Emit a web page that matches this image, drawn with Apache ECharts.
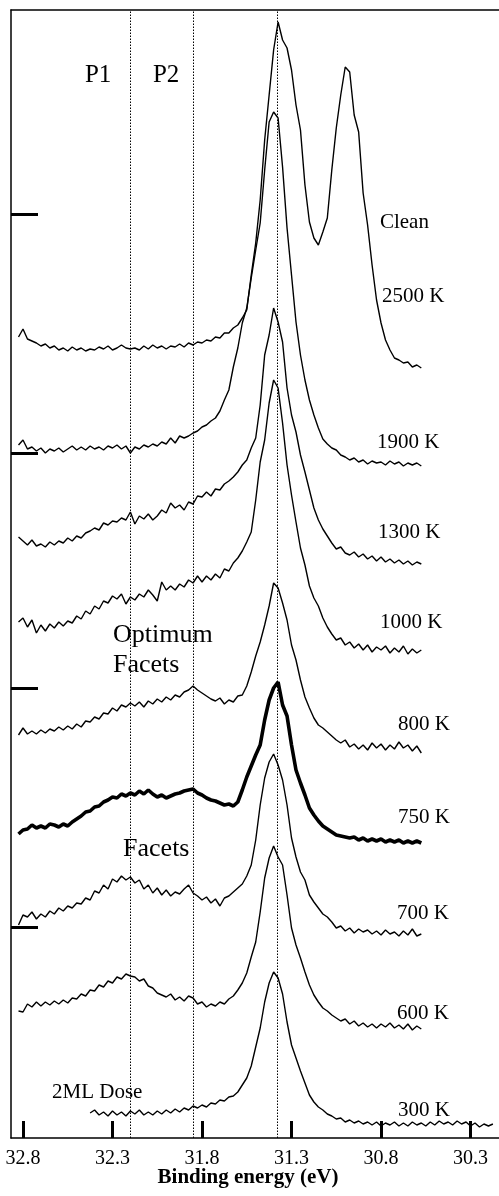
<!DOCTYPE html>
<html>
<head>
<meta charset="utf-8">
<script src="https://cdn.jsdelivr.net/npm/echarts@6/dist/echarts.min.js"></script>
<style>
html,body{margin:0;padding:0;background:#fff;}
#chart{width:499px;height:1196px;}
</style>
</head>
<body>
<div id="chart"></div>
<script>
// Binding energy grid (eV)
const energy = [
32.825,32.8,32.775,32.75,32.725,32.7,32.675,32.65,32.625,32.6,
32.575,32.55,32.525,32.5,32.475,32.45,32.425,32.4,32.375,32.35,
32.325,32.3,32.275,32.25,32.225,32.2,32.175,32.15,32.125,32.1,
32.075,32.05,32.025,32.0,31.975,31.95,31.925,31.9,31.875,31.85,
31.825,31.8,31.775,31.75,31.725,31.7,31.675,31.65,31.625,31.6,
31.575,31.55,31.525,31.5,31.475,31.45,31.425,31.4,31.375,31.35,
31.325,31.3,31.275,31.25,31.225,31.2,31.175,31.15,31.125,31.1,
31.075,31.05,31.025,31.0,30.975,30.95,30.925,30.9,30.875,30.85,
30.825,30.8,30.775,30.75,30.725,30.7,30.675,30.65,30.625,30.6,
30.575,30.55,30.525,30.5,30.475,30.45,30.425,30.4,30.375,30.35,
30.325,30.3,30.275,30.25,30.225,30.2,30.175];

// Intensities (arbitrary units, curves stacked with offsets)
const clean2500K = [
801,809,799,797,795,792,794,790,792,788,
790,787,791,788,790,787,789,788,791,789,
792,788,790,793,790,789,790,788,792,789,
793,790,792,789,792,791,794,791,795,793,
796,795,798,797,801,800,805,805,810,813,
820,828,863,895,938,998,1043,1088,1116,1098,
1090,1068,1033,1008,953,916,900,893,906,920,
968,1010,1043,1071,1066,1023,1006,945,913,873,
838,815,798,788,780,778,775,776,771,773,
770];
const k1900 = [
693,698,689,691,687,690,685,689,687,690,
686,689,692,688,691,688,692,689,691,688,
692,690,693,689,692,685,691,689,693,691,
694,692,696,694,700,695,702,700,702,705,
707,711,713,717,720,727,738,748,771,790,
815,830,860,888,915,968,1016,1026,1020,971,
910,863,816,783,758,738,723,710,699,694,
690,688,683,681,678,680,676,678,674,677,
675,676,673,677,674,676,672,675,673,675,
672];
const k1300 = [
601,597,593,598,592,594,591,596,593,597,
595,600,597,602,600,605,607,610,608,615,
613,617,616,620,618,626,614,622,619,624,
618,622,628,625,635,630,633,628,636,634,
642,641,646,642,649,648,654,657,661,666,
673,678,690,700,733,783,803,830,816,796,
750,723,706,683,666,648,630,618,609,602,
595,589,591,585,583,586,581,584,579,582,
577,581,576,579,575,578,574,577,573,576,
574];
const k1000 = [
516,520,511,518,505,513,507,514,510,516,
512,517,515,522,519,527,524,532,529,537,
535,542,539,544,534,541,538,544,541,548,
543,537,556,548,552,548,554,551,558,555,
562,556,562,558,564,560,569,567,575,580,
587,596,606,638,676,698,735,758,750,715,
673,643,616,590,573,552,540,532,520,511,
504,498,500,493,496,490,494,488,493,486,
491,488,492,485,490,486,492,484,489,485,
488];
const k800 = [
403,410,404,407,404,408,405,409,407,411,
408,412,409,414,411,417,416,421,419,425,
424,430,427,433,431,435,432,436,431,437,
434,439,436,441,438,443,441,446,448,452,
448,445,442,439,437,440,434,438,436,442,
443,452,466,482,496,513,532,555,550,535,
518,493,478,458,441,430,420,413,410,406,
402,398,395,398,391,394,389,393,388,395,
390,394,388,393,389,396,390,393,387,392,
385];
const k750 = [
304,308,309,313,310,312,310,314,313,311,
314,312,316,319,322,326,327,331,332,336,
338,341,340,344,342,345,343,347,344,348,
344,341,343,340,342,344,345,347,348,349,
345,343,340,338,337,335,333,334,332,336,
348,361,372,383,393,418,438,450,456,433,
422,393,368,355,343,330,323,317,312,309,
306,303,302,301,300,301,298,300,297,299,
297,299,296,298,296,298,295,297,295,297,
295];
const k700 = [
213,223,221,226,219,224,221,227,224,230,
227,232,230,235,234,240,238,247,245,253,
249,259,256,262,258,261,255,258,249,253,
245,250,243,248,242,246,244,249,253,245,
242,238,241,235,239,232,240,242,246,250,
254,262,273,298,333,360,376,384,373,358,
333,300,281,266,258,243,236,230,224,221,
216,210,212,207,210,205,209,206,208,204,
207,203,208,204,206,202,207,203,209,202,
204];
const k600 = [
127,126,134,131,136,132,136,133,137,134,
138,135,140,139,144,142,148,147,153,151,
157,155,161,159,164,162,161,157,159,152,
150,145,143,141,144,138,141,137,142,140,
134,136,131,134,132,136,134,139,142,148,
155,165,181,196,226,260,280,292,281,273,
243,210,193,180,166,153,143,136,130,127,
123,120,117,119,114,117,112,115,111,114,
110,114,111,115,110,113,109,114,108,112,
109];
// 2ML dose, 300 K: starts at 32.425 eV
const k300Start = 32.425;
const k300 = [
25,28,23,26,22,27,23,26,22,27,
24,28,23,26,23,27,24,28,25,29,
26,30,28,32,30,33,31,35,34,38,
37,41,42,46,53,60,72,91,110,136,
155,166,160,144,116,93,80,67,55,43,
36,31,28,24,22,19,20,16,18,15,
17,14,16,13,16,12,15,13,16,12,
15,12,16,13,15,12,16,13,17,14,
16,13,17,14,16,12,15,11,14,12,
14];

const energyTicks = [32.8, 32.3, 31.8, 31.3, 30.8, 30.3];
const offsetTicks = [924, 685, 450, 211];
const markerEnergies = [32.202, 31.854, 31.381];
const energyRange = [30.141, 32.867];
const intensityRange = [0, 1128];

// annotations: [energy, intensity, text, kind]
const annotations = [
  [30.806, 916, 'Clean', 'temp'],
  [30.794, 842, '2500 K', 'temp'],
  [30.822, 696, '1900 K', 'temp'],
  [30.817, 606, '1300 K', 'temp'],
  [30.806, 516, '1000 K', 'temp'],
  [30.705, 414, '800 K', 'temp'],
  [30.705, 321, '750 K', 'temp'],
  [30.711, 225, '700 K', 'temp'],
  [30.711, 125, '600 K', 'temp'],
  [30.705, 28, '300 K', 'temp'],
  [32.638, 46, '2ML Dose', 'temp'],
  [32.454, 1063, 'P1', 'peak'],
  [32.074, 1063, 'P2', 'peak'],
  [32.297, 503, 'Optimum', 'big'],
  [32.297, 473, 'Facets', 'big'],
  [32.241, 289, 'Facets', 'big']
];

const spectra = [
  {name: 'Clean 2500 K', vals: clean2500K, start: energy[0], width: 1.4},
  {name: '1900 K', vals: k1900, start: energy[0], width: 1.4},
  {name: '1300 K', vals: k1300, start: energy[0], width: 1.4},
  {name: '1000 K', vals: k1000, start: energy[0], width: 1.4},
  {name: '800 K', vals: k800, start: energy[0], width: 1.4},
  {name: '750 K', vals: k750, start: energy[0], width: 3.6},
  {name: '700 K', vals: k700, start: energy[0], width: 1.4},
  {name: '600 K', vals: k600, start: energy[0], width: 1.4},
  {name: '300 K', vals: k300, start: k300Start, width: 1.4}
];

const FONT = '"Liberation Serif", "Times New Roman", serif';

const series = spectra.map((s, si) => {
  const i0 = energy.indexOf(s.start);
  const data = s.vals.map((v, i) => [energy[i0 + i], v]);
  const ser = {
    type: 'line', name: s.name, data: data,
    showSymbol: false, symbol: 'none', silent: true,
    lineStyle: {color: '#000', width: s.width, opacity: 1},
    z: 3
  };
  if (si === 0) {
    ser.markLine = {
      silent: true, symbol: ['none', 'none'], label: {show: false},
      lineStyle: {color: '#000', width: 1, type: [1.5, 1.5], opacity: 1},
      data: markerEnergies.map(e => ({xAxis: e}))
    };
  }
  return ser;
});

const sizes = {temp: 21, peak: 25, big: 26};
series.push({
  type: 'scatter', silent: true, symbolSize: 0, z: 5,
  itemStyle: {opacity: 1, color: '#000'},
  data: annotations.map(a => ({
    value: [a[0], a[1]],
    label: {
      show: true, formatter: a[2], position: 'right', distance: 0,
      align: 'left', verticalAlign: 'middle', opacity: 1,
      textBorderWidth: 0, textShadowBlur: 0,
      fontFamily: FONT, fontSize: sizes[a[3]], color: '#000'
    }
  }))
});

const chart = echarts.init(document.getElementById('chart'), null, {renderer: 'canvas'});
chart.setOption({
  animation: false,
  backgroundColor: '#fff',
  grid: {left: 11, right: 0, top: 10, bottom: 58, containLabel: false},
  xAxis: [{
    type: 'value', position: 'bottom', inverse: true,
    min: energyRange[0], max: energyRange[1],
    axisLine: {show: true, lineStyle: {color: '#000', width: 1.5}},
    axisTick: {show: true, inside: true, length: 17, customValues: energyTicks,
      lineStyle: {color: '#000', width: 3}},
    axisLabel: {show: true, customValues: energyTicks, margin: 11,
      formatter: v => v.toFixed(1), fontFamily: FONT, fontSize: 20, color: '#000'},
    splitLine: {show: false}
  }, {
    type: 'value', position: 'top', inverse: true,
    min: energyRange[0], max: energyRange[1],
    axisLine: {show: true, lineStyle: {color: '#000', width: 1.5}},
    axisTick: {show: false}, axisLabel: {show: false}, splitLine: {show: false}
  }],
  yAxis: {
    type: 'value', min: intensityRange[0], max: intensityRange[1],
    axisLine: {show: true, lineStyle: {color: '#000', width: 1.5}},
    axisTick: {show: true, inside: true, length: 27, customValues: offsetTicks,
      lineStyle: {color: '#000', width: 3}},
    axisLabel: {show: false},
    splitLine: {show: false}
  },
  graphic: [{
    type: 'text', x: 248, y: 1178,
    style: {text: 'Binding energy (eV)', fontFamily: FONT, fontSize: 21, fontWeight: 'bold',
      fill: '#000', align: 'center', verticalAlign: 'middle'}
  }],
  series: series
});
</script>
</body>
</html>
